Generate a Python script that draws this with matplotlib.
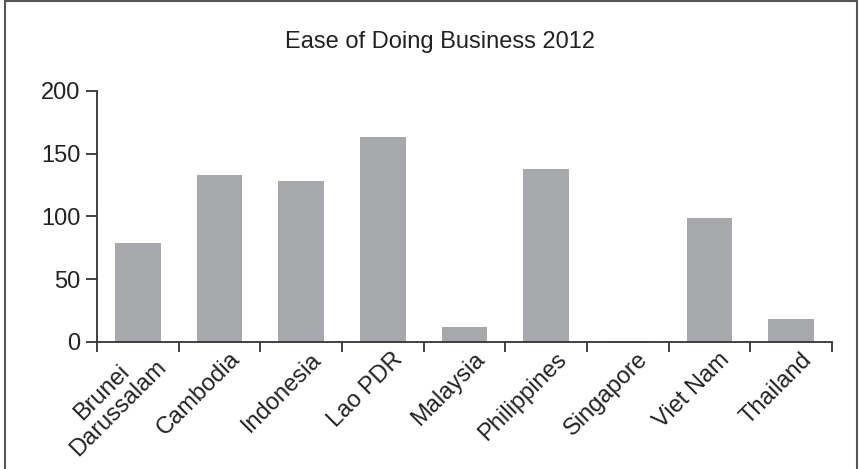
import numpy as np
import matplotlib.pyplot as plt
import matplotlib.transforms as mtransforms
from matplotlib.patches import Rectangle

plt.rcParams['font.family'] = ['Liberation Sans', 'DejaVu Sans']

countries = ["Brunei\nDarussalam", "Cambodia", "Indonesia", "Lao PDR", "Malaysia",
             "Philippines", "Singapore", "Viet Nam", "Thailand"]
ranks = [79, 133, 128, 163, 12, 138, 1, 99, 18]
yticks = [0, 50, 100, 150, 200]

fig = plt.figure(figsize=(8.6, 4.69), dpi=100)

# thin frame around the whole figure
fig.patches.append(Rectangle((5 / 860, -0.05), 852 / 860, 1.05 - 1.5 / 469,
                             transform=fig.transFigure, fill=False,
                             edgecolor='#555555', linewidth=1.5))

ax = fig.add_axes([97 / 860, 1 - 342 / 469, 735 / 860, 251 / 469])
x = np.arange(len(countries))
ax.bar(x, ranks, width=0.56, color='#a7a8ab')

ax.set_xlim(-0.5, len(countries) - 0.5)
ax.set_ylim(0, 200)
ax.set_yticks(yticks)
ax.set_xticks(np.arange(len(countries) + 1) - 0.5)
ax.set_xticklabels([])

# slanted category labels, hanging a little right of each bar centre
lab_tr = ax.get_xaxis_transform() + mtransforms.ScaledTranslation(
    17 / 100, -14 / 100, fig.dpi_scale_trans)
for xi, name in zip(x, countries):
    ax.text(xi, 0, name, transform=lab_tr, rotation=45, ha='right', va='center',
            rotation_mode='anchor', multialignment='center', linespacing=1.05,
            fontsize=17, color='#222222')

for s in ['top', 'right']:
    ax.spines[s].set_visible(False)
for s in ['left', 'bottom']:
    ax.spines[s].set_color('#333333')
    ax.spines[s].set_linewidth(1.3)

ax.tick_params(axis='x', length=7, width=1.3, color='#333333')
ax.tick_params(axis='y', length=8, width=1.3, color='#333333', labelsize=17,
               labelcolor='#222222', pad=4)

fig.text(440 / 860, 1 - 42 / 469, "Ease of Doing Business 2012", ha='center',
         va='center', fontsize=17, color='#222222')

fig.savefig('out.png', dpi=100)
